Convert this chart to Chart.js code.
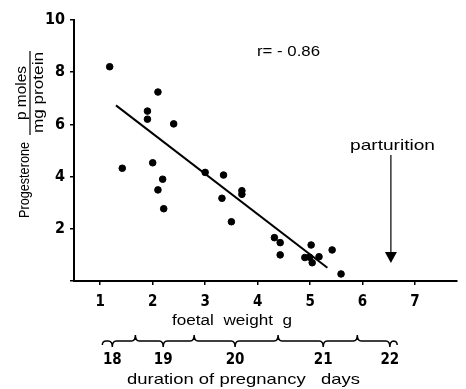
<!DOCTYPE html>
<html>
<head>
<meta charset="utf-8">
<script src="https://cdn.jsdelivr.net/npm/chart.js@4"></script>
<style>
  html, body { margin: 0; padding: 0; background: #fff; }
  #wrap { width: 466px; height: 389px; }
</style>
</head>
<body>
<div id="wrap"><canvas id="chart" width="466" height="389"></canvas></div>
<script>
// data
const foetalWeight = [1.18, 2.1, 1.9, 1.9, 2.4, 1.42, 2.0, 2.19, 2.1, 2.21, 3.0, 3.35, 3.32, 3.7, 3.7, 3.5, 4.32, 4.43, 4.43, 4.9, 4.99, 5.04, 5.02, 5.17, 5.42, 5.59];
const progesterone = [8.21, 7.24, 6.51, 6.2, 6.02, 4.32, 4.53, 3.9, 3.49, 2.77, 4.16, 4.06, 3.17, 3.46, 3.32, 2.27, 1.66, 1.47, 1.0, 0.9, 0.91, 0.7, 1.38, 0.93, 1.19, 0.27];
const fitX = [1.3, 5.33];
const fitY = [6.73, 0.51];
const xTicks = [1, 2, 3, 4, 5, 6, 7];
const yTicks = [0, 2, 4, 6, 8, 10];
// pregnancy days under the weight axis (positions in g)
const dayLabels = ["18", "19", "20", "21", "22"];
const dayCenters = [1.23, 2.2, 3.57, 5.25, 6.52];
const dayBounds = [1.04, 1.67, 2.79, 4.39, 5.9, 6.66];
const partX = 6.54;
const partY = [4.83, 0.69];

const condensed = "'Liberation Sans Narrow', 'DejaVu Sans Condensed', 'Arial Narrow', sans-serif";
const plain = "'Liberation Sans', Arial, sans-serif";

// draw text stretched/squeezed to a given width, starting at x
function fitText(ctx, text, x, y, width) {
  const w = ctx.measureText(text).width;
  ctx.save();
  ctx.translate(x, y);
  ctx.scale(width / w, 1);
  ctx.textAlign = "left";
  ctx.fillText(text, 0, 0);
  ctx.restore();
}

const extras = {
  id: "extras",
  afterDraw(chart) {
    const ctx = chart.ctx;
    const xs = chart.scales.x, ys = chart.scales.y;
    ctx.save();
    ctx.fillStyle = "#000";
    ctx.strokeStyle = "#000";
    ctx.textBaseline = "middle";

    // y axis title
    ctx.save();
    ctx.translate(25, 180);
    ctx.rotate(-Math.PI / 2);
    ctx.font = "14.5px " + plain;
    fitText(ctx, "Progesterone", -38, 0, 76);
    ctx.restore();

    ctx.save();
    ctx.translate(30, 93);
    ctx.rotate(-Math.PI / 2);
    ctx.font = "14.5px " + plain;
    ctx.textBaseline = "alphabetic";
    fitText(ctx, "p moles", -27, -4, 54);
    ctx.textBaseline = "top";
    fitText(ctx, "mg protein", -40, 2, 81);
    ctx.lineWidth = 1.2;
    ctx.beginPath();
    ctx.moveTo(-42, 0);
    ctx.lineTo(42, 0);
    ctx.stroke();
    ctx.restore();

    // r value
    ctx.font = "15px " + plain;
    fitText(ctx, "r= - 0.86", 257, 52, 63);

    // parturition arrow
    const ax = xs.getPixelForValue(partX);
    const ay0 = ys.getPixelForValue(partY[0]);
    const ay1 = ys.getPixelForValue(partY[1]);
    ctx.font = "15px " + plain;
    fitText(ctx, "parturition", 350, 146, 85);
    ctx.lineWidth = 1.2;
    ctx.beginPath();
    ctx.moveTo(ax, ay0);
    ctx.lineTo(ax, ay1 - 9);
    ctx.stroke();
    ctx.beginPath();
    ctx.moveTo(ax - 6, ay1 - 11);
    ctx.lineTo(ax + 6, ay1 - 11);
    ctx.lineTo(ax, ay1);
    ctx.closePath();
    ctx.fill();

    // x axis title
    ctx.font = "14px " + plain;
    fitText(ctx, "foetal  weight  g", 172, 321, 120);

    // braces for pregnancy days
    const by = 341, h = 6;
    ctx.lineWidth = 1.5;
    ctx.beginPath();
    for (let i = 0; i < dayLabels.length; i++) {
      const a = xs.getPixelForValue(dayBounds[i]);
      const b = xs.getPixelForValue(dayBounds[i + 1]);
      const c = xs.getPixelForValue(dayCenters[i]);
      const ha = i === 0 ? -4 : h;
      const hb = i === dayLabels.length - 1 ? -4 : h;
      ctx.moveTo(a, by - ha);
      ctx.quadraticCurveTo(a, by, a + 4, by);
      ctx.lineTo(c - 4, by);
      ctx.quadraticCurveTo(c, by, c, by + h);
      ctx.quadraticCurveTo(c, by, c + 4, by);
      ctx.lineTo(b - 4, by);
      ctx.quadraticCurveTo(b, by, b, by - hb);
    }
    ctx.stroke();

    ctx.font = "bold 15px " + condensed;
    ctx.textAlign = "center";
    dayLabels.forEach((d, i) => {
      ctx.fillText(d, xs.getPixelForValue(dayCenters[i]), 360);
    });

    ctx.font = "15px " + plain;
    fitText(ctx, "duration of pregnancy   days", 127, 380, 233);
    ctx.restore();
  }
};

new Chart(document.getElementById("chart"), {
  type: "scatter",
  data: {
    datasets: [
      {
        data: foetalWeight.map((x, i) => ({ x, y: progesterone[i] })),
        backgroundColor: "#000",
        borderColor: "#000",
        pointRadius: 3.3,
        pointHoverRadius: 3.3
      },
      {
        type: "line",
        data: fitX.map((x, i) => ({ x, y: fitY[i] })),
        borderColor: "#000",
        borderWidth: 2,
        pointRadius: 0,
        fill: false
      }
    ]
  },
  options: {
    responsive: false,
    animation: false,
    layout: { padding: { top: 20, right: 9, left: 0, bottom: 0 } },
    plugins: { legend: { display: false }, tooltip: { enabled: false } },
    scales: {
      x: {
        type: "linear",
        min: 0.5,
        max: 7.8,
        afterBuildTicks: s => { s.ticks = xTicks.map(v => ({ value: v })); },
        afterFit: s => { s.height = 108; },
        grid: { drawOnChartArea: false, drawTicks: true, tickLength: 4, color: "#000", lineWidth: 1.5 },
        border: { display: true, color: "#000", width: 2 },
        ticks: { color: "#000", padding: 8, font: { family: condensed, size: 15, weight: "bold" } }
      },
      y: {
        min: 0,
        max: 10,
        afterBuildTicks: s => { s.ticks = yTicks.map(v => ({ value: v })); },
        afterFit: s => { s.width = 74; },
        grid: { drawOnChartArea: false, drawTicks: true, tickLength: 4, color: "#000", lineWidth: 1.5 },
        border: { display: true, color: "#000", width: 2 },
        ticks: {
          color: "#000",
          padding: 5,
          font: { family: condensed, size: 16, weight: "bold" },
          callback: v => (v === 0 ? "" : v)
        }
      }
    }
  },
  plugins: [extras]
});
</script>
</body>
</html>
